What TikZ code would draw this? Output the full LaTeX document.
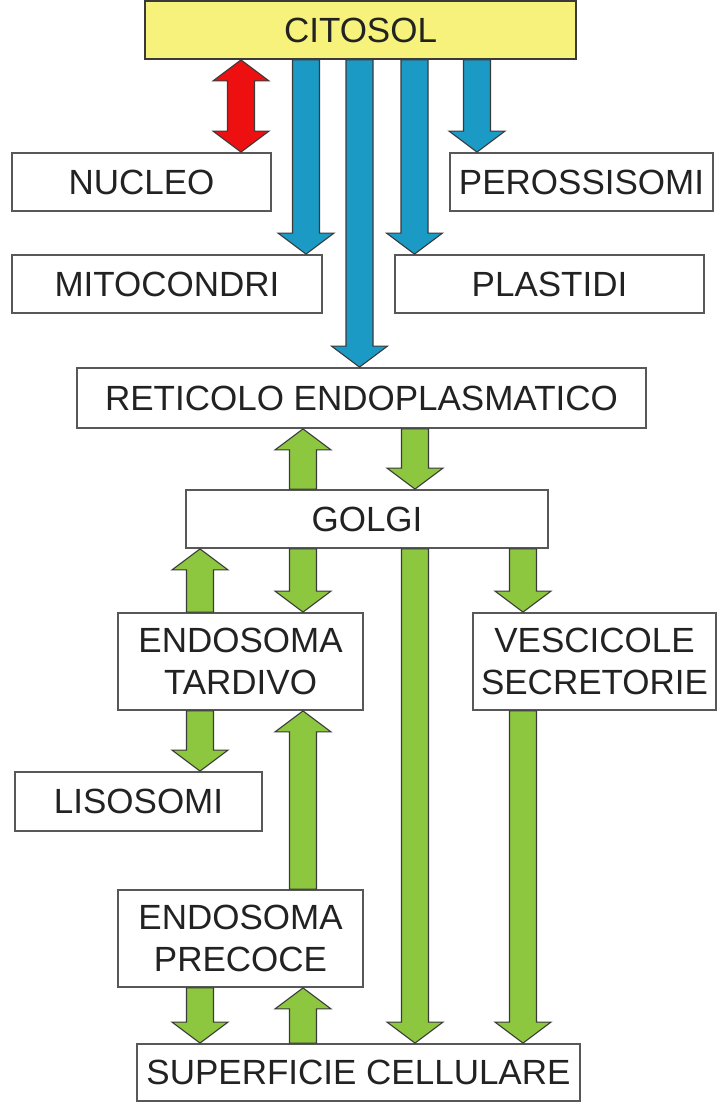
\documentclass[tikz,border=0pt]{standalone}
\usepackage{fontspec}
\setmainfont{Liberation Sans}
\usetikzlibrary{calc}
\definecolor{celYellow}{HTML}{F6F27C}
\definecolor{celBlue}{HTML}{1B9AC6}
\definecolor{celRed}{HTML}{EE1010}
\definecolor{celGreen}{HTML}{8DC63F}
\definecolor{celLine}{HTML}{3A3A3A}
\definecolor{celText}{HTML}{222222}
\tikzset{
  cel box/.style={draw=celLine!85, fill=white, line width=1.8pt, inner sep=0pt, align=center, text=celText, font=\fontsize{35}{42}\selectfont},
  cel title/.style={cel box, fill=celYellow, draw=celLine},
  cel arrow/.style={draw=celLine, line width=1.1pt, line join=miter},
  cel blue/.style={cel arrow, fill=celBlue},
  cel red/.style={cel arrow, fill=celRed},
  cel green/.style={cel arrow, fill=celGreen},
}
% block arrow on column #2, from #3 to tip at #4
\newcommand{\celArrow}[4][]{%
  \path[#1] let \p1=(#2 |- #3), \p2=(#2 |- #4), \p4=($(\p2)!21pt!(\p1)$) in
    ({\x1-13.5pt},\y1) -- ({\x1-13.5pt},\y4) -- ({\x1-28pt},\y4) -- (\p2)
    -- ({\x1+28pt},\y4) -- ({\x1+13.5pt},\y4) -- ({\x1+13.5pt},\y1) -- cycle;
}
% same with a tip at both ends
\newcommand{\celBiArrow}[4][]{%
  \path[#1] let \p1=(#2 |- #3), \p2=(#2 |- #4), \p3=($(\p1)!21pt!(\p2)$), \p4=($(\p2)!21pt!(\p1)$) in
    (\p1) -- ({\x1+28pt},\y3) -- ({\x1+13.5pt},\y3) -- ({\x1+13.5pt},\y4) -- ({\x1+28pt},\y4) -- (\p2)
    -- ({\x1-28pt},\y4) -- ({\x1-13.5pt},\y4) -- ({\x1-13.5pt},\y3) -- ({\x1-28pt},\y3) -- cycle;
}

\begin{document}
\begin{tikzpicture}[x=1pt, y=-1pt]
  \useasboundingbox (0,0) rectangle (717,1103);

  % compartments
  \node[cel title, minimum width=431pt, minimum height=58pt] (citosol) at (360.5,30) {CITOSOL};
  \node[cel box, minimum width=259pt, minimum height=58pt] (nucleo) at (141.5,182) {NUCLEO};
  \node[cel box, minimum width=263pt, minimum height=58pt] (perox) at (581.5,182) {PEROSSISOMI};
  \node[cel box, minimum width=310pt, minimum height=58pt] (mito) at (167,284) {MITOCONDRI};
  \node[cel box, minimum width=309pt, minimum height=58pt] (plastidi) at (549.5,284) {PLASTIDI};
  \node[cel box, minimum width=569pt, minimum height=60pt] (reticolo) at (361.5,398) {RETICOLO ENDOPLASMATICO};
  \node[cel box, minimum width=362pt, minimum height=58pt] (golgi) at (367,519) {GOLGI};
  \node[cel box, minimum width=245pt, minimum height=97pt] (tardivo) at (240.5,661.5) {ENDOSOMA\\TARDIVO};
  \node[cel box, minimum width=243pt, minimum height=97pt] (vescicole) at (594.5,661.5) {VESCICOLE\\SECRETORIE};
  \node[cel box, minimum width=247pt, minimum height=59pt] (lisosomi) at (138.5,801.5) {LISOSOMI};
  \node[cel box, minimum width=245pt, minimum height=97pt] (precoce) at (240.5,938.5) {ENDOSOMA\\PRECOCE};
  \node[cel box, minimum width=443pt, minimum height=57pt] (superficie) at (358.5,1072.5) {SUPERFICIE CELLULARE};

  % arrow columns
  \foreach \n/\x in {colRed/241, colMito/306, colRet/359.5, colPla/414.5, colPer/477,
                     colA/200, colB/303, colC/415, colD/523}
    \coordinate (\n) at (\x,0);

  % from the cytosol
  \celBiArrow[cel red]{colRed}{citosol.south}{nucleo.north}
  \foreach \c/\a/\b in {colMito/citosol.south/mito.north, colRet/citosol.south/reticolo.north,
                        colPla/citosol.south/plastidi.north, colPer/citosol.south/perox.north}
    \celArrow[cel blue]{\c}{\a}{\b};

  % secretory and endocytic routes
  \foreach \c/\a/\b in {colB/golgi.north/reticolo.south, colC/reticolo.south/golgi.north,
                        colA/tardivo.north/golgi.south, colB/golgi.south/tardivo.north,
                        colC/golgi.south/superficie.north, colD/golgi.south/vescicole.north,
                        colA/tardivo.south/lisosomi.north, colB/precoce.north/tardivo.south,
                        colD/vescicole.south/superficie.north, colA/precoce.south/superficie.north,
                        colB/superficie.north/precoce.south}
    \celArrow[cel green]{\c}{\a}{\b};
\end{tikzpicture}
\end{document}
